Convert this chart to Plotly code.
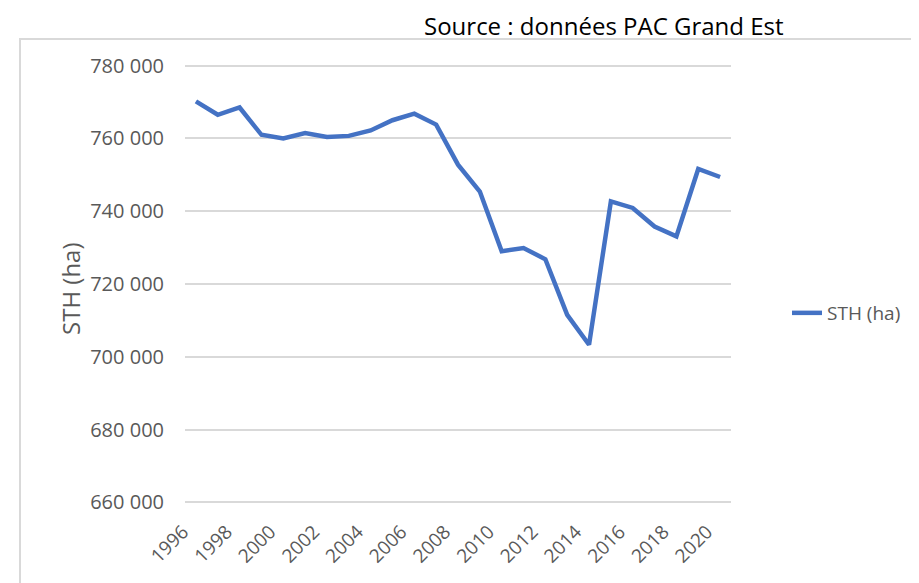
import plotly.graph_objects as go

years = list(range(1996, 2021))
sth_ha = [770200, 766500, 768500, 761000, 760000, 761500, 760400, 760700,
          762200, 765000, 766800, 763800, 752800, 745400, 729000, 729900,
          726800, 711500, 703300, 742700, 740900, 735800, 733100, 751600,
          749400]
series_name = "STH (ha)"
source_text = "Source : données PAC Grand Est"
y_ticks = [660000, 680000, 700000, 720000, 740000, 760000, 780000]
x_ticks = list(range(1996, 2021, 2))

OFF = 8  # page body margin
W, H = 919 - OFF, 583 - OFF
Lf, Rf, Tf, Bf = 177, 723, 54, 498  # plot area in figure coords


def px(xs):
    return (xs - OFF - Lf) / (Rf - Lf)


def py(ys):
    return (Bf - (ys - OFF)) / (Bf - Tf)


fig = go.Figure()
fig.add_trace(go.Scatter(
    x=years, y=sth_ha, mode="lines", name=series_name,
    line=dict(color="#4472C4", width=4.5),
))

FONT = "Open Sans, Noto Sans, sans-serif"
GREY = "#595959"

fig.update_layout(
    width=W, height=H,
    margin=dict(l=Lf, r=W - Rf, t=Tf, b=H - Bf, pad=0, autoexpand=False),
    paper_bgcolor="white", plot_bgcolor="white",
    separators=", ",
    showlegend=True,
    legend=dict(x=px(787), y=py(313), xanchor="left", yanchor="middle",
                font=dict(family=FONT, size=19, color=GREY),
                bgcolor="rgba(0,0,0,0)"),
    xaxis=dict(range=[1995.5, 2020.5], tickvals=x_ticks, ticktext=[str(v) for v in x_ticks],
               tickangle=-45, tickfont=dict(family=FONT, size=19, color=GREY),
               showgrid=False, zeroline=False,
               showline=False, ticks="", ticklabelstandoff=10, ticklabelshift=-13,
               fixedrange=True, automargin=False),
    yaxis=dict(range=[659000, 781000], tickvals=y_ticks, tickformat=",d",
               tickfont=dict(family=FONT, size=20, color=GREY),
               showgrid=True, gridcolor="#d9d9d9", gridwidth=1.5,
               zeroline=False, showline=False, ticks="", ticklabelstandoff=20,
               fixedrange=True, automargin=False),
    shapes=[dict(type="rect", xref="paper", yref="paper",
                 x0=px(20), x1=px(940), y0=py(600), y1=py(39),
                 line=dict(color="#d9d9d9", width=2), fillcolor="rgba(0,0,0,0)", layer="below")],
    annotations=[
        dict(text=source_text, xref="paper", yref="paper",
             x=px(604), y=py(8), xanchor="center", yanchor="top", borderpad=0,
             showarrow=False,
             font=dict(family=FONT, size=24, color="#000000")),
        dict(text=series_name, xref="paper", yref="paper",
             x=px(70), y=py(289), xanchor="center", yanchor="middle",
             textangle=-90, showarrow=False,
             font=dict(family=FONT, size=24, color=GREY)),
    ],
)

fig.write_html("out.html")
